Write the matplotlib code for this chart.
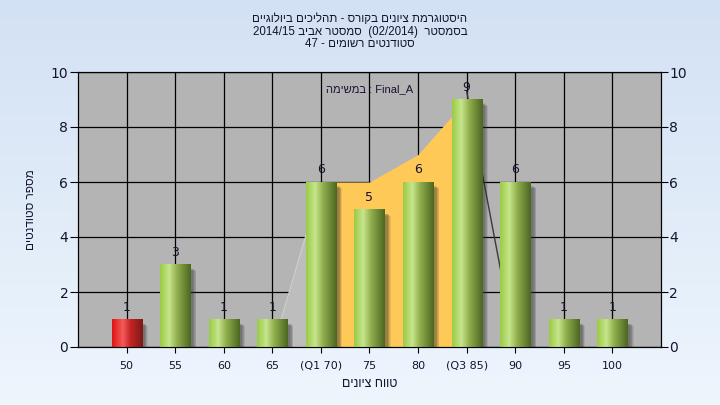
import re

import numpy as np
import matplotlib.pyplot as plt
from matplotlib.colors import LinearSegmentedColormap


def rtl(text):
    # naive bidi: flip the whole line, then flip back latin / digit runs
    rev = text[::-1]
    rev = re.sub(r"[0-9A-Za-z_/.]+", lambda m: m.group(0)[::-1], rev)
    return rev.translate(str.maketrans("()", ")("))


categories = ["50", "55", "60", "65", "(Q1 70)", "75", "80", "(Q3 85)", "90", "95", "100"]
counts = [1, 3, 1, 1, 6, 5, 6, 9, 6, 1, 1]

# range areas behind the bars (category index, value)
low_x = [3, 4]
low_y = [0, 6]
iqr_x = [4, 5, 6, 7]
iqr_y = [6, 6, 7, 9]
high_x = [7, 8]
high_y = [9.3, 0]

title_lines = [
    "היסטוגרמת ציונים בקורס - תהליכים ביולוגיים",
    "בסמסטר  (02/2014)  סמסטר אביב 2014/15",
    "סטודנטים רשומים - 47",
]
xlabel = "טווח ציונים"
ylabel = "מספר סטודנטים"
note = "Final_A : במשימה"

text_color = "#141430"
heb_font = ["Liberation Sans", "DejaVu Sans"]

fig = plt.figure(figsize=(7.2, 4.05), dpi=100)

# background gradient
bg = fig.add_axes([0, 0, 1, 1], zorder=-10)
bg_cmap = LinearSegmentedColormap.from_list("bg", ["#d3e1f4", "#eef6fd"])
bg.imshow(np.linspace(0, 1, 256).reshape(-1, 1), aspect="auto", cmap=bg_cmap,
          extent=[0, 1, 0, 1])
bg.axis("off")

ax = fig.add_axes([78 / 720, 58 / 405, 583 / 720, 275 / 405])
ax.set_facecolor("#b4b4b4")
x = np.arange(len(categories))

ax.grid(True, color="black", linewidth=0.9)
ax.set_axisbelow(True)

ax.fill_between(low_x, low_y, color="#bdbdbd", edgecolor="#cfcfcf", linewidth=0.8, zorder=1.5)
ax.fill_between(iqr_x, iqr_y, color="#ffc957", linewidth=0, zorder=1.6)
ax.plot(high_x, high_y, color="#3a3a3a", linewidth=1.0, zorder=1.7)

green = LinearSegmentedColormap.from_list(
    "g", [(0, "#9ccb45"), (0.3, "#c6e58c"), (0.55, "#92b04e"), (1, "#4b6620")])
red = LinearSegmentedColormap.from_list(
    "r", [(0, "#e01414"), (0.35, "#f45a5a"), (0.6, "#c42424"), (1, "#7e1818")])
grad = np.linspace(0, 1, 128).reshape(1, -1)

width = 0.62
px = 48.4  # pixels per category
for i, v in zip(x, counts):
    x0, x1 = i - width / 2, i + width / 2
    # soft shadow to the lower right
    for k in range(6):
        ax.add_patch(plt.Rectangle((x0 + (3 + k * 0.6) / px, 0), width, v - (4 + k * 0.4) / 27.5,
                                   color="#303030", alpha=0.10, linewidth=0, zorder=2))
    ax.imshow(grad, cmap=red if i == 0 else green, aspect="auto",
              extent=[x0, x1, 0, v], zorder=3, interpolation="bilinear")
    ax.annotate(str(v), (i, v), xytext=(0, 4), textcoords="offset points",
                ha="center", va="bottom", fontsize=9, color=text_color, zorder=5)

ax.set_xlim(-1, len(categories))
ax.set_ylim(0, 10)

ax.set_xticks(x)
ax.set_xticklabels(categories)
ax.set_yticks(range(0, 11, 2))
ax.tick_params(axis="x", length=4, labelsize=8, labelcolor=text_color, pad=6)
ax.tick_params(axis="y", length=6, labelsize=10, labelcolor=text_color, pad=1)
for s in ax.spines.values():
    s.set_color("black")

ax2 = ax.twinx()
ax2.set_ylim(0, 10)
ax2.set_yticks(range(0, 11, 2))
ax2.tick_params(axis="y", length=5, labelsize=10, labelcolor=text_color, pad=1)

ax.set_xlabel(rtl(xlabel), fontsize=9, color=text_color, labelpad=5, family=heb_font)
ax.set_ylabel(rtl(ylabel), fontsize=8.5, color=text_color, labelpad=10, family=heb_font)

ax.text(0.5, 0.955, rtl(note), transform=ax.transAxes, ha="center", va="top",
        fontsize=8, color="#201030", zorder=6, family=heb_font)

fig.text(0.5, 1 - 13 / 405, "\n".join(rtl(t) for t in title_lines), ha="center", va="top",
         fontsize=8.3, color=text_color, linespacing=1.08, family=heb_font)

fig.savefig("out.png", dpi=100)
